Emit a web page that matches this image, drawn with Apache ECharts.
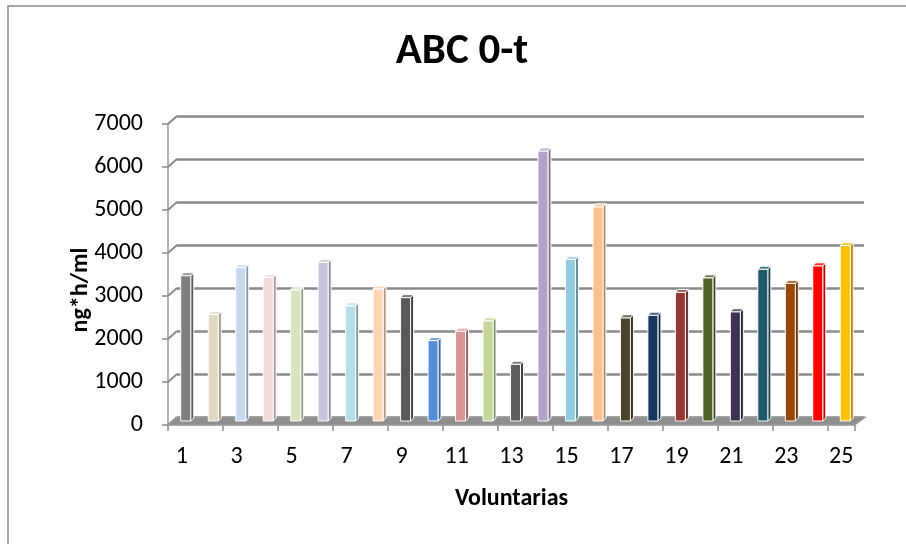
<!DOCTYPE html>
<html>
<head>
<meta charset="utf-8">
<script src="https://cdn.jsdelivr.net/npm/echarts@6/dist/echarts.min.js"></script>
<style>
  html, body { margin: 0; padding: 0; background: #ffffff; }
  #chart { width: 906px; height: 544px; }
</style>
</head>
<body>
<div id="chart"></div>
<script>
// Volunteers (category axis)
const categories = ['1','2','3','4','5','6','7','8','9','10','11','12','13',
                    '14','15','16','17','18','19','20','21','22','23','24','25'];
// AUC 0-t per volunteer, ng*h/ml
const aucValues = [3380, 2480, 3570, 3340, 3050, 3690, 2680, 3070, 2870, 1870, 2090, 2330, 1320,
                   6280, 3760, 4980, 2400, 2460, 2990, 3330, 2540, 3530, 3200, 3610, 4080];
// One colour per volunteer
const barColors = ['#7f7f7f', '#ddd9c3', '#c6d9f1', '#f2dcdb', '#d7e4bd', '#ccc1da', '#b7dee8',
                   '#fcd5b5', '#595959', '#558ed5', '#d99694', '#c3d69b', '#5f5f5f', '#b3a2c7',
                   '#93cddd', '#fac090', '#4a452a', '#17375e', '#953735', '#4f6228', '#3f3151',
                   '#215968', '#984807', '#ff0000', '#ffc000'];
// Value axis ticks
const yTicks = [0, 1000, 2000, 3000, 4000, 5000, 6000, 7000];

const FONT = 'Carlito, Lato, "Open Sans", sans-serif';
const DEPTH_X = 9, DEPTH_Y = -8;   // offset of the back wall relative to the front axes
const GRID_COLOR = '#8a8a8a';

function shade(hex, amt) {
  const n = parseInt(hex.slice(1), 16);
  let r = (n >> 16) & 255, g = (n >> 8) & 255, b = n & 255;
  const f = c => amt < 0 ? Math.round(c * (1 + amt)) : Math.round(c + (255 - c) * amt);
  r = f(r); g = f(g); b = f(b);
  return 'rgb(' + r + ',' + g + ',' + b + ')';
}

const chart = echarts.init(document.getElementById('chart'), null, { renderer: 'canvas' });

const option = {
  backgroundColor: '#ffffff',
  animation: false,
  graphic: [
    { type: 'rect', shape: { x: 8, y: 6, width: 960, height: 600 },
      style: { fill: 'none', stroke: '#8c8c8c', lineWidth: 1.5 }, z: -10 },
    { type: 'text', x: 462, y: 52,
      style: { text: 'ABC 0-t', font: 'bold 43px ' + FONT, fill: '#000',
               textAlign: 'center', textVerticalAlign: 'middle' } },
    // value axis title, rotated
    { type: 'text', x: 81, y: 290, rotation: Math.PI / 2,
      style: { text: 'ng*h/ml', font: 'bold 24px ' + FONT, fill: '#000',
               textAlign: 'center', textVerticalAlign: 'middle' } }
  ],
  grid: [
    // back wall (gridlines)
    { left: 168 + DEPTH_X, right: 51 - DEPTH_X, top: 124 + DEPTH_Y, bottom: 119 - DEPTH_Y },
    // front axes (labels, ticks)
    { left: 168, right: 51, top: 124, bottom: 119 },
    // bars, half depth
    { left: 172, right: 47, top: 120, bottom: 123 }
  ],
  xAxis: [
    { gridIndex: 0, type: 'category', data: categories, show: false },
    { gridIndex: 1, type: 'category', data: categories,
      axisLine: { show: true, lineStyle: { color: '#9a9a9a', width: 1.5 } },
      axisTick: { show: true, length: 6, lineStyle: { color: '#8a8a8a', width: 1.5 } },
      axisLabel: { interval: 1, margin: 20, fontSize: 24, color: '#000', fontFamily: FONT },
      name: 'Voluntarias', nameLocation: 'middle', nameGap: 62,
      nameTextStyle: { fontSize: 24, fontWeight: 'bold', color: '#000', fontFamily: FONT } },
    { gridIndex: 2, type: 'category', data: categories, show: false }
  ],
  yAxis: [
    { gridIndex: 0, type: 'value', min: 0, max: 7000, interval: 1000,
      axisLine: { show: false }, axisTick: { show: false }, axisLabel: { show: false },
      splitLine: { show: true, lineStyle: { color: GRID_COLOR, width: 2.5 } } },
    { gridIndex: 1, type: 'value', min: 0, max: 7000, interval: 1000,
      axisLine: { show: true, lineStyle: { color: '#9a9a9a', width: 1.5 } },
      axisTick: { show: true, length: 6, lineStyle: { color: '#8a8a8a', width: 1.5 } },
      axisLabel: { margin: 25, fontSize: 24, color: '#000', fontFamily: FONT,
                   formatter: v => String(v) },
      splitLine: { show: false } },
    { gridIndex: 2, type: 'value', min: 0, max: 7000, show: false }
  ],
  series: [
    // slanted connectors from the front ticks to the back wall gridlines
    { type: 'custom', xAxisIndex: 1, yAxisIndex: 1, z: 2,
      data: yTicks.map(v => [0, v]),
      renderItem: function (params, api) {
        const y = api.coord([0, api.value(1)])[1];
        const x = params.coordSys.x;
        return { type: 'line',
                 shape: { x1: x, y1: y, x2: x + DEPTH_X, y2: y + DEPTH_Y },
                 style: { stroke: GRID_COLOR, lineWidth: 2 } };
      } },
    // floor slab
    { type: 'custom', xAxisIndex: 1, yAxisIndex: 1, z: 3,
      data: [[0, 0]],
      renderItem: function (params, api) {
        const cs = params.coordSys;
        const y = api.coord([0, 0])[1];
        return { type: 'polygon',
                 shape: { points: [[cs.x, y], [cs.x + cs.width, y],
                                   [cs.x + cs.width + DEPTH_X + 2, y + DEPTH_Y],
                                   [cs.x + DEPTH_X, y + DEPTH_Y]] },
                 style: { fill: '#8e8e8e', stroke: '#a0a0a0', lineWidth: 1 } };
      } },
    // 3D-looking columns
    { type: 'custom', xAxisIndex: 2, yAxisIndex: 2, z: 5,
      data: aucValues.map((v, i) => [i, v]),
      renderItem: function (params, api) {
        const i = api.value(0);
        const top = api.coord([i, api.value(1)]);
        const base = api.coord([i, 0]);
        const cx = top[0];
        const w = 10, d = 3;
        const col = barColors[i];
        const stroke = 'rgba(255,255,255,0.95)';
        return { type: 'group', children: [
          { type: 'polygon',
            shape: { points: [[cx + w / 2, top[1]], [cx + w / 2 + d, top[1] - d],
                              [cx + w / 2 + d, base[1] - d], [cx + w / 2, base[1]]] },
            style: { fill: shade(col, -0.3), stroke: stroke, lineWidth: 1 } },
          { type: 'rect',
            shape: { x: cx - w / 2, y: top[1], width: w, height: base[1] - top[1] },
            style: { fill: col, stroke: stroke, lineWidth: 1 } },
          { type: 'polygon',
            shape: { points: [[cx - w / 2, top[1]], [cx + w / 2, top[1]],
                              [cx + w / 2 + d, top[1] - d], [cx - w / 2 + d, top[1] - d]] },
            style: { fill: shade(col, 0.2), stroke: stroke, lineWidth: 1 } }
        ] };
      } }
  ]
};

chart.setOption(option);
</script>
</body>
</html>
